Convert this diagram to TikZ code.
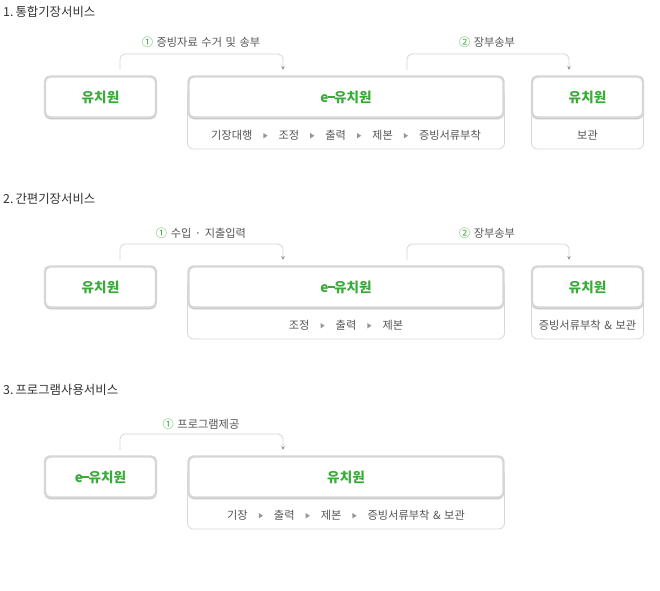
\documentclass[tikz,border=0pt]{standalone}
\usepackage{fontspec}
\setmainfont{Noto Sans CJK KR}
\usetikzlibrary{arrows.meta,shadows}
\definecolor{grn}{RGB}{58,170,58}
\definecolor{ttl}{RGB}{51,51,51}
\definecolor{subtxt}{RGB}{85,85,85}
\definecolor{bord}{RGB}{214,214,214}
\definecolor{thinb}{RGB}{216,216,216}
\definecolor{conncol}{RGB}{214,214,214}
\definecolor{tricol}{RGB}{150,150,150}
\newcommand\mytri{\tikz[baseline=0pt]\fill[tricol] (0,0.8pt)--(0,6.2pt)--(4.2pt,3.5pt)--cycle;}
\newcommand\tsep{\hspace{11pt}\mytri\hspace{11pt}}
\newcommand\wsp{\hspace{3.6pt}}
\newcommand\eyu{e\kern-0.6pt\rule[0.33em]{0.5em}{0.09em}\kern-0.4pt 유치원}
\tikzset{
  mainbox/.style={draw=bord, line width=2.4pt, rounded corners=5pt, fill=white,
    minimum height=41pt, inner sep=0pt,
    drop shadow={shadow xshift=0pt, shadow yshift=-1.8pt, fill=black!40, opacity=0.6},
    font=\fontsize{13.6}{15}\selectfont\bfseries, text=grn},
  subbox/.style={draw=thinb, line width=0.8pt, rounded corners=6pt, fill=white, inner sep=0pt},
  subtext/.style={font=\fontsize{11.2}{13}\selectfont, text=subtxt, inner sep=0pt},
  title/.style={font=\fontsize{12.4}{14}\selectfont, text=ttl, anchor=west, inner sep=0pt},
  lbl/.style={font=\fontsize{11.2}{13}\selectfont, text=subtxt, inner sep=0pt},
  conn/.style={draw=conncol, line width=0.8pt, rounded corners=5pt,
    -{Stealth[length=4pt,width=3.5pt,color=tricol]}},
}
\begin{document}
\begin{tikzpicture}[x=1pt,y=-1pt]
\useasboundingbox (0,0) rectangle (660,590);
\fill[white] (0,0) rectangle (660,590);

% ---------- Section 1 ----------
\node[title] (t1) at (3,12) {1.\hspace{2pt}통합기장서비스};
\node[subbox, minimum width=317pt, minimum height=60pt] (s1m) at (346,119) {};
\node[subbox, minimum width=112pt, minimum height=60pt] (s1r) at (587.5,119) {};
\node[mainbox, minimum width=111pt] (a1) at (100.5,97) {유치원};
\node[mainbox, minimum width=315pt] (b1) at (346,97) {\eyu};
\node[mainbox, minimum width=111pt] (c1) at (587.5,97) {유치원};
\node[subtext] (x1) at (346,135) {기장대행\tsep 조정\tsep 출력\tsep 제본\tsep 증빙서류부착};
\node[subtext] (y1) at (587.5,135) {보관};
\coordinate (p1s) at (120,70);
\coordinate (p1m) at (200,54);
\coordinate (p1e) at (283,70);
\draw[conn] (p1s) |- (p1m) -| (p1e);
\node[lbl] (l1) at (201,42) {\textcolor{grn}{①}\wsp 증빙자료\wsp 수거\wsp 및\wsp 송부};
\coordinate (q1s) at (407,70);
\coordinate (q1m) at (487,54);
\coordinate (q1e) at (569,70);
\draw[conn] (q1s) |- (q1m) -| (q1e);
\node[lbl] (m1) at (487,42) {\textcolor{grn}{②}\wsp 장부송부};

% ---------- Section 2 ----------
\node[title] (t2) at (3,199) {2.\hspace{2pt}간편기장서비스};
\node[subbox, minimum width=317pt, minimum height=60pt] (s2m) at (346,309) {};
\node[subbox, minimum width=112pt, minimum height=60pt] (s2r) at (587.5,309) {};
\node[mainbox, minimum width=111pt] (a2) at (100.5,287) {유치원};
\node[mainbox, minimum width=315pt] (b2) at (346,287) {\eyu};
\node[mainbox, minimum width=111pt] (c2) at (587.5,287) {유치원};
\node[subtext] (x2) at (346,325) {조정\tsep 출력\tsep 제본};
\node[subtext] (y2) at (587.5,325) {증빙서류부착\wsp\&\wsp 보관};
\coordinate (p2s) at (120,260);
\coordinate (p2m) at (200,244);
\coordinate (p2e) at (283,260);
\draw[conn] (p2s) |- (p2m) -| (p2e);
\node[lbl] (l2) at (201,233) {\textcolor{grn}{①}\wsp 수입\wsp ·\wsp 지출입력};
\coordinate (q2s) at (407,260);
\coordinate (q2m) at (487,244);
\coordinate (q2e) at (569,260);
\draw[conn] (q2s) |- (q2m) -| (q2e);
\node[lbl] (m2) at (487,233) {\textcolor{grn}{②}\wsp 장부송부};

% ---------- Section 3 ----------
\node[title] (t3) at (3,390) {3.\hspace{2pt}프로그램사용서비스};
\node[subbox, minimum width=317pt, minimum height=60pt] (s3m) at (346,499) {};
\node[mainbox, minimum width=111pt] (a3) at (100.5,477) {\eyu};
\node[mainbox, minimum width=315pt] (b3) at (346,477) {유치원};
\node[subtext] (x3) at (346,515) {기장\tsep 출력\tsep 제본\tsep 증빙서류부착\wsp\&\wsp 보관};
\coordinate (p3s) at (120,450);
\coordinate (p3m) at (200,434);
\coordinate (p3e) at (283,450);
\draw[conn] (p3s) |- (p3m) -| (p3e);
\node[lbl] (l3) at (201,424) {\textcolor{grn}{①}\wsp 프로그램제공};
\end{tikzpicture}
\end{document}
